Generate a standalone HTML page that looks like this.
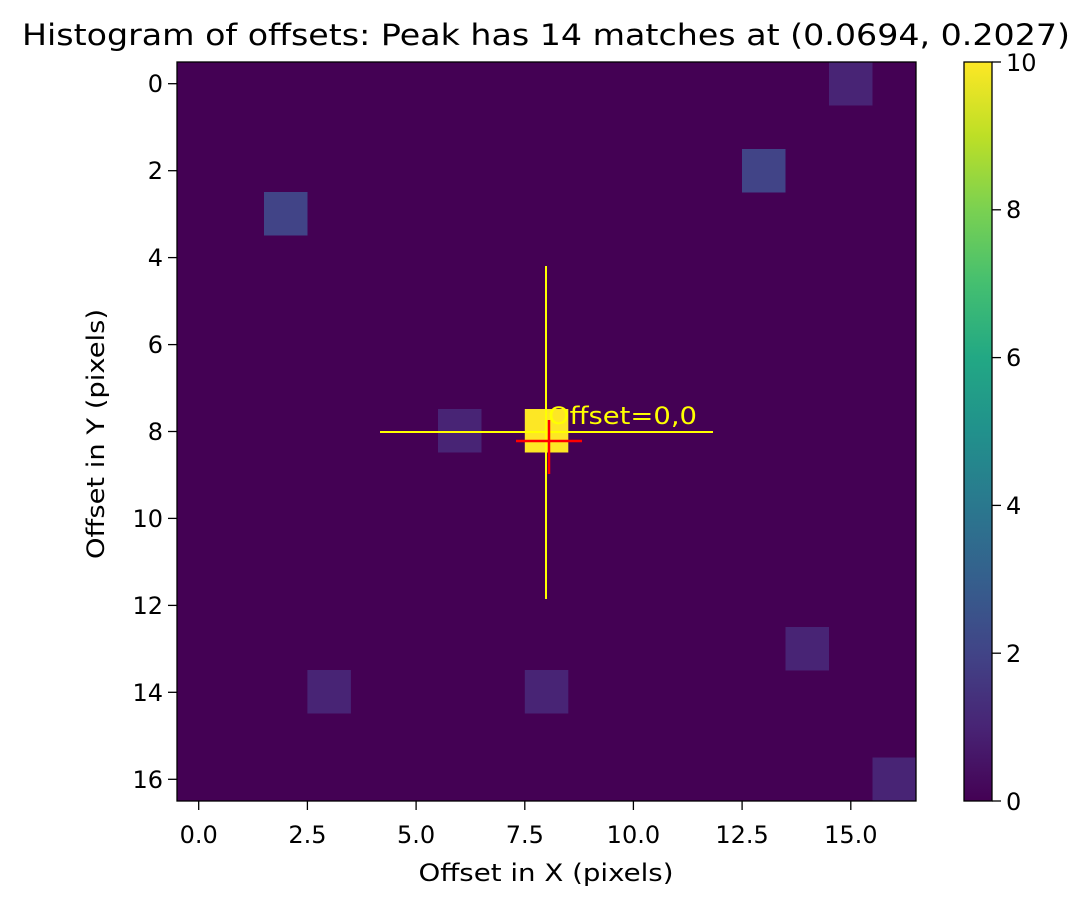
<!DOCTYPE html><html><head><style>body{margin:0;background:#fff}</style></head><body>
<svg width="1092" height="908" xmlns="http://www.w3.org/2000/svg" font-family="DejaVu Sans, Liberation Sans, sans-serif">
<defs><linearGradient id="v" x1="0" y1="1" x2="0" y2="0">
<stop offset="0" stop-color="#440154"/><stop offset="0.1" stop-color="#482475"/><stop offset="0.2" stop-color="#414487"/><stop offset="0.3" stop-color="#355f8d"/><stop offset="0.4" stop-color="#2a788e"/><stop offset="0.5" stop-color="#21918c"/><stop offset="0.6" stop-color="#22a884"/><stop offset="0.7" stop-color="#44bf70"/><stop offset="0.8" stop-color="#7ad151"/><stop offset="0.9" stop-color="#bddf26"/><stop offset="1" stop-color="#fde725"/></linearGradient></defs>
<text x="546" y="45" font-size="29" text-anchor="middle" textLength="1048" lengthAdjust="spacingAndGlyphs">Histogram of offsets: Peak has 14 matches at (0.0694, 0.2027)</text>
<rect x="177" y="62" width="739" height="739" fill="#440154"/>
<g fill="#482475">
<rect x="829" y="62" width="43.5" height="43.5"/>
<rect x="438" y="409" width="43.5" height="43.5"/>
<rect x="785.5" y="627" width="43.5" height="43.5"/>
<rect x="307.4" y="670" width="43.5" height="43.5"/>
<rect x="524.8" y="670" width="43.5" height="43.5"/>
<rect x="872.5" y="757.5" width="43.5" height="43.5"/>
</g>
<g fill="#414487">
<rect x="742" y="149" width="43.5" height="43.5"/>
<rect x="264" y="192" width="43.5" height="43.5"/>
</g>
<rect x="524.8" y="409" width="43.5" height="43.5" fill="#fde725"/>
<g stroke="#ffff00" stroke-width="2"><line x1="546" y1="266" x2="546" y2="599"/><line x1="380" y1="432" x2="713" y2="432"/></g>
<g stroke="#ff0000" stroke-width="2.5"><line x1="516" y1="441" x2="582" y2="441"/><line x1="549" y1="420" x2="549" y2="474"/></g>
<text x="548" y="424" font-size="24" fill="#ffff00" textLength="149" lengthAdjust="spacingAndGlyphs">Offset=0,0</text>
<rect x="177" y="62" width="739" height="739" fill="none" stroke="#000" stroke-width="1.3"/>
<g stroke="#000" stroke-width="1.3">
<line x1="198.7" y1="801" x2="198.7" y2="810"/><line x1="307.4" y1="801" x2="307.4" y2="810"/><line x1="416.1" y1="801" x2="416.1" y2="810"/><line x1="524.8" y1="801" x2="524.8" y2="810"/><line x1="633.4" y1="801" x2="633.4" y2="810"/><line x1="742.1" y1="801" x2="742.1" y2="810"/><line x1="850.8" y1="801" x2="850.8" y2="810"/>
</g>
<g font-size="24" text-anchor="middle">
<text x="198.7" y="843">0.0</text><text x="307.4" y="843">2.5</text><text x="416.1" y="843">5.0</text><text x="524.8" y="843">7.5</text><text x="633.4" y="843">10.0</text><text x="742.1" y="843">12.5</text><text x="850.8" y="843">15.0</text>
</g>
<text x="546" y="881" font-size="24" text-anchor="middle" textLength="255" lengthAdjust="spacingAndGlyphs">Offset in X (pixels)</text>
<g stroke="#000" stroke-width="1.3"><line x1="168" y1="83.7" x2="177" y2="83.7"/><line x1="168" y1="170.7" x2="177" y2="170.7"/><line x1="168" y1="257.6" x2="177" y2="257.6"/><line x1="168" y1="344.6" x2="177" y2="344.6"/><line x1="168" y1="431.5" x2="177" y2="431.5"/><line x1="168" y1="518.4" x2="177" y2="518.4"/><line x1="168" y1="605.4" x2="177" y2="605.4"/><line x1="168" y1="692.3" x2="177" y2="692.3"/><line x1="168" y1="779.3" x2="177" y2="779.3"/></g>
<g font-size="24" text-anchor="end">
<text x="163" y="92">0</text><text x="163" y="179">2</text><text x="163" y="266">4</text><text x="163" y="353">6</text><text x="163" y="440">8</text><text x="163" y="527">10</text><text x="163" y="614">12</text><text x="163" y="701">14</text><text x="163" y="788">16</text>
</g>
<text transform="translate(104,434) rotate(-90)" font-size="24" text-anchor="middle" textLength="250" lengthAdjust="spacingAndGlyphs">Offset in Y (pixels)</text>
<rect x="964" y="62" width="28" height="739" fill="url(#v)" stroke="#000" stroke-width="1.3"/>
<g stroke="#000" stroke-width="1.3"><line x1="992" y1="801" x2="1001" y2="801"/><line x1="992" y1="653.2" x2="1001" y2="653.2"/><line x1="992" y1="505.4" x2="1001" y2="505.4"/><line x1="992" y1="357.6" x2="1001" y2="357.6"/><line x1="992" y1="209.8" x2="1001" y2="209.8"/><line x1="992" y1="62" x2="1001" y2="62"/></g>
<g font-size="24"><text x="1006" y="810">0</text><text x="1006" y="662">2</text><text x="1006" y="514">4</text><text x="1006" y="366">6</text><text x="1006" y="218">8</text><text x="1006" y="71">10</text></g>
</svg></body></html>
